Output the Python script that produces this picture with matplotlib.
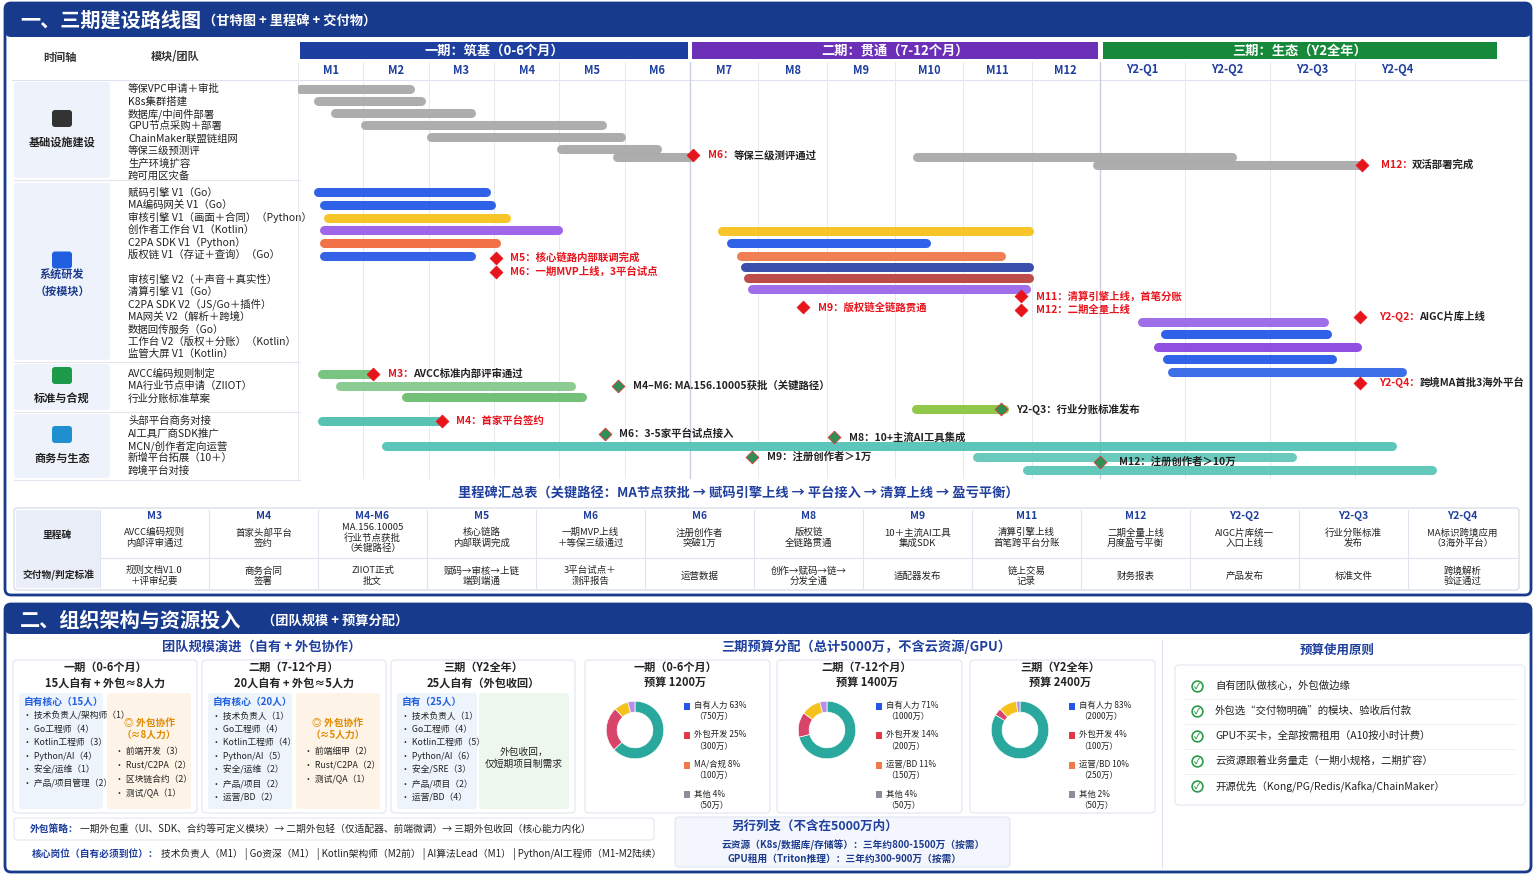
import numpy as np
import matplotlib
matplotlib.use("Agg")
import matplotlib.pyplot as plt
from matplotlib.patches import FancyBboxPatch, Rectangle

plt.rcParams['font.family'] = ['Noto Sans CJK SC', 'DejaVu Sans']

NAVY = "#173a8c"
BLUE_T = "#1f3f9e"

# ---- data -------------------------------------------------------------
MONTHS = ["M1", "M2", "M3", "M4", "M5", "M6", "M7", "M8", "M9", "M10", "M11", "M12",
          "Y2-Q1", "Y2-Q2", "Y2-Q3", "Y2-Q4"]
PHASES = ["一期：筑基（0-6个月）", "二期：贯通（7-12个月）", "三期：生态（Y2全年）"]
PHASE_SPAN = [(0, 6), (6, 12), (12, 16.7)]
PHASE_COL = ["#1d3fa0", "#6b2fb8", "#168a3a"]

GROUPS = ["基础设施建设", "系统研发\n（按模块）", "标准与合规", "商务与生态"]
GROUP_Y = [(82, 178), (183, 360), (364, 410), (414, 478)]
TASKS = [
    ["等保VPC申请＋审批", "K8s集群搭建", "数据库/中间件部署", "GPU节点采购＋部署",
     "ChainMaker联盟链组网", "等保三级预测评", "生产环境扩容", "跨可用区灾备"],
    ["赋码引擎 V1（Go）", "MA编码网关 V1（Go）", "审核引擎 V1（画面＋合同）（Python）",
     "创作者工作台 V1（Kotlin）", "C2PA SDK V1（Python）", "版权链 V1（存证＋查询）（Go）",
     "", "审核引擎 V2（＋声音＋真实性）", "清算引擎 V1（Go）", "C2PA SDK V2（JS/Go＋插件）",
     "MA网关 V2（解析＋跨境）", "数据回传服务（Go）", "工作台 V2（版权＋分账）（Kotlin）",
     "监管大屏 V1（Kotlin）"],
    ["AVCC编码规则制定", "MA行业节点申请（ZIIOT）", "行业分账标准草案"],
    ["头部平台商务对接", "AI工具厂商SDK推广", "MCN/创作者定向运营", "新增平台拓展（10＋）", "跨境平台对接"],
]
TASK_Y0 = [89, 193, 374, 421]
TASK_DY = 12.4

# bars: start, end (timeline units), row y, colour
BAR_START = [0.03, 0.3, 0.57, 1.03, 2.03, 4.03, 4.88, 9.32, 11.96,
             0.3, 0.4, 0.46, 0.4, 0.4, 0.4,
             6.47, 6.6, 6.75, 6.8, 6.85, 6.9,
             12.49, 12.76, 12.68, 12.79, 12.85,
             0.37, 0.65, 1.65, 9.3,
             0.37, 1.34, 10.2, 10.93]
BAR_END = [1.72, 1.88, 2.65, 4.65, 4.95, 5.5, 6.0, 13.55, 15.08,
           2.88, 2.95, 3.18, 3.98, 3.03, 2.65,
           10.96, 9.46, 10.55, 10.96, 10.96, 10.92,
           14.64, 14.67, 15.02, 14.73, 15.55,
           1.1, 4.18, 4.34, 10.6,
           2.14, 15.44, 14.26, 15.9]
BAR_ROW = [89, 101, 113, 125, 137, 149, 157, 157, 165,
           192, 205, 218, 230, 243, 256,
           231, 243, 256, 267, 278, 289,
           322, 334, 347, 359, 372,
           374, 386, 397, 409,
           421, 446, 457, 470]
BAR_COL = ["#a9a9a9"] * 9 + ["#2458e8", "#2458e8", "#f7c21c", "#9a5ee8", "#f26a3d", "#2a5be6",
           "#f7c21c", "#2458e8", "#f0784a", "#2f46a8", "#b8423e", "#9a66e8",
           "#9a66e8", "#2458e8", "#8a45e0", "#2458e8", "#3466e8",
           "#72c17a", "#86c98c", "#6bbd72", "#8cc540",
           "#4fbfb0", "#52c3b5", "#62c7ba", "#5cc5b8"]

MS_X = [6.05, 15.08, 3.03, 3.03, 7.65, 10.85, 10.85, 15.06, 15.06,
        1.15, 4.9, 10.55, 2.2, 4.7, 8.1, 6.9, 12.0]
MS_Y = [155, 165, 258, 272, 307, 296, 310, 317, 383,
        374, 386, 409, 421, 434, 437, 457, 462]
MS_TXT = ["M6：等保三级测评通过", "M12：双活部署完成", "M5：核心链路内部联调完成", "M6：一期MVP上线，3平台试点",
          "M9：版权链全链路贯通", "M11：清算引擎上线，首笔分账", "M12：二期全量上线",
          "Y2-Q2：AIGC片库上线", "Y2-Q4：跨境MA首批3海外平台",
          "M3：AVCC标准内部评审通过", "M4–M6: MA.156.10005获批（关键路径）", "Y2-Q3：行业分账标准发布",
          "M4：首家平台签约", "M6：3-5家平台试点接入", "M8：10+主流AI工具集成",
          "M9：注册创作者＞1万", "M12：注册创作者＞10万"]
MS_RED = [2, 2, 1, 1, 1, 1, 1, 2, 2, 2, 0, 0, 1, 0, 0, 0, 0]  # 1 red text, 2 red code + black text

TBL_CODE = ["M3", "M4", "M4-M6", "M5", "M6", "M6", "M8", "M9", "M11", "M12", "Y2-Q2", "Y2-Q3", "Y2-Q4"]
TBL_MS = ["AVCC编码规则\n内部评审通过", "首家头部平台\n签约", "MA.156.10005\n行业节点获批\n（关键路径）",
          "核心链路\n内部联调完成", "一期MVP上线\n＋等保三级通过", "注册创作者\n突破1万", "版权链\n全链路贯通",
          "10＋主流AI工具\n集成SDK", "清算引擎上线\n首笔跨平台分账", "二期全量上线\n月度盈亏平衡",
          "AIGC片库统一\n入口上线", "行业分账标准\n发布", "MA标识跨境应用\n（3海外平台）"]
TBL_DEL = ["规则文档V1.0\n＋评审纪要", "商务合同\n签署", "ZIIOT正式\n批文", "赋码→审核→上链\n端到端通",
           "3平台试点＋\n测评报告", "运营数据", "创作→赋码→链→\n分发全通", "适配器发布", "链上交易\n记录",
           "财务报表", "产品发布", "标准文件", "跨境解析\n验证通过"]

TEAM_HEAD = ["一期（0-6个月）\n15人自有 + 外包≈8人力", "二期（7-12个月）\n20人自有 + 外包≈5人力",
             "三期（Y2全年）\n25人自有（外包收回）"]
TEAM_CORE = ["自有核心（15人）", "自有核心（20人）", "自有（25人）"]
TEAM_OWN = [["技术负责人/架构师（1）", "Go工程师（4）", "Kotlin工程师（3）", "Python/AI（4）", "安全/运维（1）", "产品/项目管理（2）"],
            ["技术负责人（1）", "Go工程师（4）", "Kotlin工程师（4）", "Python/AI（5）", "安全/运维（2）", "产品/项目（2）", "运营/BD（2）"],
            ["技术负责人（1）", "Go工程师（4）", "Kotlin工程师（5）", "Python/AI（6）", "安全/SRE（3）", "产品/项目（2）", "运营/BD（4）"]]
TEAM_OUT_HEAD = ["外包协作\n（≈8人力）", "外包协作\n（≈5人力）", ""]
TEAM_OUT = [["前端开发（3）", "Rust/C2PA（2）", "区块链合约（2）", "测试/QA（1）"],
            ["前端细甲（2）", "Rust/C2PA（2）", "测试/QA（1）"], []]

BUD_HEAD = ["一期（0-6个月）\n预算 1200万", "二期（7-12个月）\n预算 1400万", "三期（Y2全年）\n预算 2400万"]
BUD_PCT = [[63, 25, 8, 4], [71, 14, 11, 4], [83, 4, 10, 2]]
BUD_LBL = [["自有人力 63%\n（750万）", "外包开发 25%\n（300万）", "MA/合规 8%\n（100万）", "其他 4%\n（50万）"],
           ["自有人力 71%\n（1000万）", "外包开发 14%\n（200万）", "运营/BD 11%\n（150万）", "其他 4%\n（50万）"],
           ["自有人力 83%\n（2000万）", "外包开发 4%\n（100万）", "运营/BD 10%\n（250万）", "其他 2%\n（50万）"]]
DONUT_COL = ["#2ba89d", "#d9456a", "#f5c21b", "#b590e6"]
LEG_COL = ["#2456e6", "#e03a48", "#f07a4a", "#8a8f9a"]

PRINCIPLES = ["自有团队做核心，外包做边缘", "外包选“交付物明确”的模块、验收后付款",
              "GPU不买卡，全部按需租用（A10按小时计费）", "云资源跟着业务量走（一期小规格，二期扩容）",
              "开源优先（Kong/PG/Redis/Kafka/ChainMaker）"]

# ---- figure -----------------------------------------------------------
W, H = 1536, 881
fig = plt.figure(figsize=(W / 100, H / 100), dpi=100)
ax = fig.add_axes([0, 0, 1, 1])
ax.set_xlim(0, W)
ax.set_ylim(H, 0)
ax.axis("off")


def box(x, y, w, h, fc, ec="none", lw=1, r=4, z=1, alpha=1):
    ax.add_patch(FancyBboxPatch((x, y), w, h, boxstyle=f"round,pad=0,rounding_size={r}",
                                fc=fc, ec=ec, lw=lw, zorder=z, alpha=alpha))


def t(x, y, s, size=7, color="#222", weight="normal", ha="center", va="center", z=5, ls=1.25):
    ax.text(x, y, s, fontsize=size, color=color, fontweight=weight, ha=ha, va=va,
            zorder=z, linespacing=ls)


# section 1 frame
box(5, 3, 1526, 592, "white", ec=NAVY, lw=2, r=6)
box(5, 3, 1526, 34, NAVY, r=6, z=2)
t(20, 20, "一、三期建设路线图", 14.5, "white", "bold", ha="left")
t(203, 21, "（甘特图 + 里程碑 + 交付物）", 9.5, "white", "bold", ha="left")

# header
t(60, 57, "时间轴", 8, "#333", "bold")
t(175, 57, "模块/团队", 8, "#333", "bold")
ax.plot([12, 1528], [80, 80], color="#dde3ee", lw=0.8)

# timeline axes with a piecewise scale
BRK_U = [0, 6, 12, 16, 16.7]
BRK_P = [298, 690, 1100, 1440, 1500]
gx0, gx1, gy0, gy1 = 298, 1500, 40, 480
gax = fig.add_axes([gx0 / W, 1 - gy1 / H, (gx1 - gx0) / W, (gy1 - gy0) / H])
gax.set_xscale("function", functions=(lambda u: np.interp(u, BRK_U, BRK_P),
                                      lambda p: np.interp(p, BRK_P, BRK_U)))
gax.set_xlim(0, 16.7)
gax.set_ylim(gy1, gy0)
gax.axis("off")
gax.patch.set_alpha(0)

for i, ((a, b), name) in enumerate(zip(PHASE_SPAN, PHASES)):
    gax.barh(50.5, b - a - 0.06, left=a + 0.03, height=17, color=PHASE_COL[i], zorder=3)
    gax.text((a + b) / 2, 50.5, name, color="white", fontsize=9.5, fontweight="bold",
             ha="center", va="center", zorder=4)
for k, m in enumerate(MONTHS):
    gax.text(k + 0.5, 70, m, fontsize=8, fontweight="bold", color=BLUE_T, ha="center", va="center")
    gax.plot([k, k], [62, 478], color="#e6e9f0", lw=0.7, zorder=0)
gax.plot([6, 6], [62, 478], color="#c9cfe0", lw=1.0, zorder=0)
gax.plot([12, 12], [62, 478], color="#c9cfe0", lw=1.0, zorder=0)

for s, e, r, c in zip(BAR_START, BAR_END, BAR_ROW, BAR_COL):
    gax.plot([s, e], [r, r], color=c, lw=6.5, solid_capstyle="round", zorder=3, alpha=0.95)

for x, y, s, red in zip(MS_X, MS_Y, MS_TXT, MS_RED):
    gax.scatter([x], [y], marker="D", s=42, color="#e8141c" if red else "#2f8f55",
                edgecolor="#e8141c" if red else "#d33", lw=0.6, zorder=6)
    if red == 1:
        gax.text(x + 0.22, y, s, fontsize=7.5, color="#e8141c", fontweight="bold", va="center", zorder=6)
    elif red == 2:
        code, rest = s.split("：", 1)
        tx = gax.text(x + 0.22, y, code + "：", fontsize=7.5, color="#e8141c", fontweight="bold",
                      va="center", zorder=6)
        gax.annotate(rest, xycoords=tx, xy=(1, 0.5), va="center", fontsize=7.5,
                     fontweight="bold", color="#222", zorder=6)
    else:
        gax.text(x + 0.22, y, s, fontsize=7.5, color="#222", fontweight="bold", va="center", zorder=6)

# group boxes & task labels
for g, (name, (y0, y1)) in enumerate(zip(GROUPS, GROUP_Y)):
    box(14, y0, 96, y1 - y0, "#eef3fb", r=3, z=1)
    ax.plot([14, 300], [y1 + 2, y1 + 2], color="#e1e6ef", lw=0.8)
    t(62, (y0 + y1) / 2 + 12, name, 8, "#1d3b8c" if g == 1 else "#222", "bold")
    ax.add_patch(FancyBboxPatch((52, (y0 + y1) / 2 - 20), 20, 17,
                                boxstyle="round,pad=0,rounding_size=3",
                                fc=["#333", "#1f5fe0", "#1d9a4a", "#1f8fd0"][g], ec="none", zorder=3))
    for j, s in enumerate(TASKS[g]):
        t(128, TASK_Y0[g] + j * TASK_DY, s, 7.5, ha="left")

# milestone table
t(738, 494, "里程碑汇总表（关键路径：MA节点获批 → 赋码引擎上线 → 平台接入 → 清算上线 → 盈亏平衡）",
  9.5, BLUE_T, "bold")
box(14, 508, 1505, 82, "white", ec="#cfd6e4", lw=0.8, r=3)
box(16, 510, 84, 78, "#e9eef8", r=2, z=2)
t(57, 535, "里程碑", 7, "#222", "bold")
t(59, 575, "交付物/判定标准", 7, "#222", "bold")
cw = (1517 - 100) / len(TBL_CODE)
for i, (c, m, d) in enumerate(zip(TBL_CODE, TBL_MS, TBL_DEL)):
    cx = 100 + cw * (i + 0.5)
    ax.plot([100 + cw * i] * 2, [510, 588], color="#dfe4ee", lw=0.8, zorder=2)
    t(cx, 516, c, 7.5, BLUE_T, "bold")
    t(cx, 538, m, 6.8, ls=1.15)
    t(cx, 576, d, 6.8, ls=1.15)
ax.plot([100, 1517], [558, 558], color="#dfe4ee", lw=0.8, zorder=2)

# section 2 frame
box(5, 604, 1526, 268, "white", ec=NAVY, lw=2, r=6)
box(5, 604, 1526, 30, NAVY, r=6, z=2)
t(20, 620, "二、组织架构与资源投入", 14.5, "white", "bold", ha="left")
t(262, 621, "（团队规模 + 预算分配）", 9.5, "white", "bold", ha="left")

t(262, 647, "团队规模演进（自有 + 外包协作）", 9.5, BLUE_T, "bold")
TX = [13, 202, 391]
for i in range(3):
    x0 = TX[i]
    box(x0, 660, 184, 153, "white", ec="#e0e5ee", lw=0.8, r=4)
    t(x0 + 92, 675, TEAM_HEAD[i], 8, "#222", "bold")
    box(x0 + 6, 693, 84 if i < 2 else 80, 116, "#eef4fc", r=3, z=2)
    t(x0 + 11, 702, TEAM_CORE[i], 7, "#1f5fe0", "bold", ha="left")
    for j, s in enumerate(TEAM_OWN[i]):
        t(x0 + 10, 716 + j * 13.5, "• " + s, 6.3, ha="left")
    ox = x0 + (94 if i < 2 else 88)
    box(ox, 693, 184 - (ox - x0) - 6, 116, "#fdf3e6" if i < 2 else "#eef7ee", r=3, z=2)
    ocx = ox + (184 - (ox - x0) - 6) / 2
    if TEAM_OUT[i]:
        t(ocx, 729, "◎ " + TEAM_OUT_HEAD[i], 7, "#e08a00", "bold")
        for j, s in enumerate(TEAM_OUT[i]):
            t(ox + 8, 751 + j * 14, "• " + s, 6.3, ha="left")
    else:
        t(ocx, 758, "外包收回，\n仅短期项目制需求", 7, "#222")

box(14, 818, 640, 22, "white", ec="#e3e7ef", lw=0.8, r=3)
t(30, 829, "外包策略：", 7, BLUE_T, "bold", ha="left")
t(80, 829, "一期外包重（UI、SDK、合约等可定义模块）→ 二期外包轻（仅适配器、前端微调）→ 三期外包收回（核心能力内化）",
  7, ha="left")
t(32, 854, "核心岗位（自有必须到位）：", 7, BLUE_T, "bold", ha="left")
t(161, 854, "技术负责人（M1） | Go资深（M1） | Kotlin架构师（M2前） | AI算法Lead（M1） | Python/AI工程师（M1-M2陆续）",
  7, ha="left")

# budget donuts
t(866, 647, "三期预算分配（总计5000万，不含云资源/GPU）", 9.5, BLUE_T, "bold")
BX = [585, 777, 970]
for i in range(3):
    x0 = BX[i]
    box(x0, 660, 185, 153, "white", ec="#e0e5ee", lw=0.8, r=4)
    t(x0 + 90, 675, BUD_HEAD[i], 8, "#222", "bold")
    cx, cy = x0 + 50, 730
    pax = fig.add_axes([(cx - 36) / W, 1 - (cy + 36) / H, 72 / W, 72 / H])
    pax.pie(BUD_PCT[i], colors=DONUT_COL, startangle=90, counterclock=False,
            wedgeprops=dict(width=0.38, edgecolor="white", lw=0.5))
    pax.set_aspect("equal")
    for j, s in enumerate(BUD_LBL[i]):
        yy = 706 + j * 29.5
        ax.add_patch(Rectangle((x0 + 99, yy - 3.5), 6, 7, fc=LEG_COL[j], ec="none", zorder=3))
        t(x0 + 109, yy + 5, s, 6, ha="left", ls=1.3)

box(675, 817, 335, 50, "#f3f6fc", ec="#dfe5f0", lw=0.8, r=4)
t(815, 826, "另行列支（不含在5000万内）", 9, BLUE_T, "bold")
t(853, 845, "云资源（K8s/数据库/存储等）：三年约800-1500万（按需）", 7, "#1d3b8c", "bold")
t(845, 859, "GPU租用（Triton推理）：三年约300-900万（按需）", 7, "#1d3b8c", "bold")

ax.plot([1162, 1162], [640, 868], color="#dfe4ee", lw=0.8)
t(1337, 650, "预算使用原则", 9, BLUE_T, "bold")
box(1175, 665, 350, 140, "white", ec="#e3e7ef", lw=0.8, r=4)
for j, s in enumerate(PRINCIPLES):
    yy = 686 + j * 25
    ax.scatter([1197], [yy], s=60, facecolor="white", edgecolor="#2a9a4a", lw=1.2, zorder=4)
    t(1197, yy, "✓", 6, "#2a9a4a", "bold", z=5)
    t(1215, yy, s, 7.5, ha="left")
    if j < 4:
        ax.plot([1185, 1515], [yy + 12.5, yy + 12.5], color="#eceff4", lw=0.7)

fig.savefig("out.png", dpi=100)
